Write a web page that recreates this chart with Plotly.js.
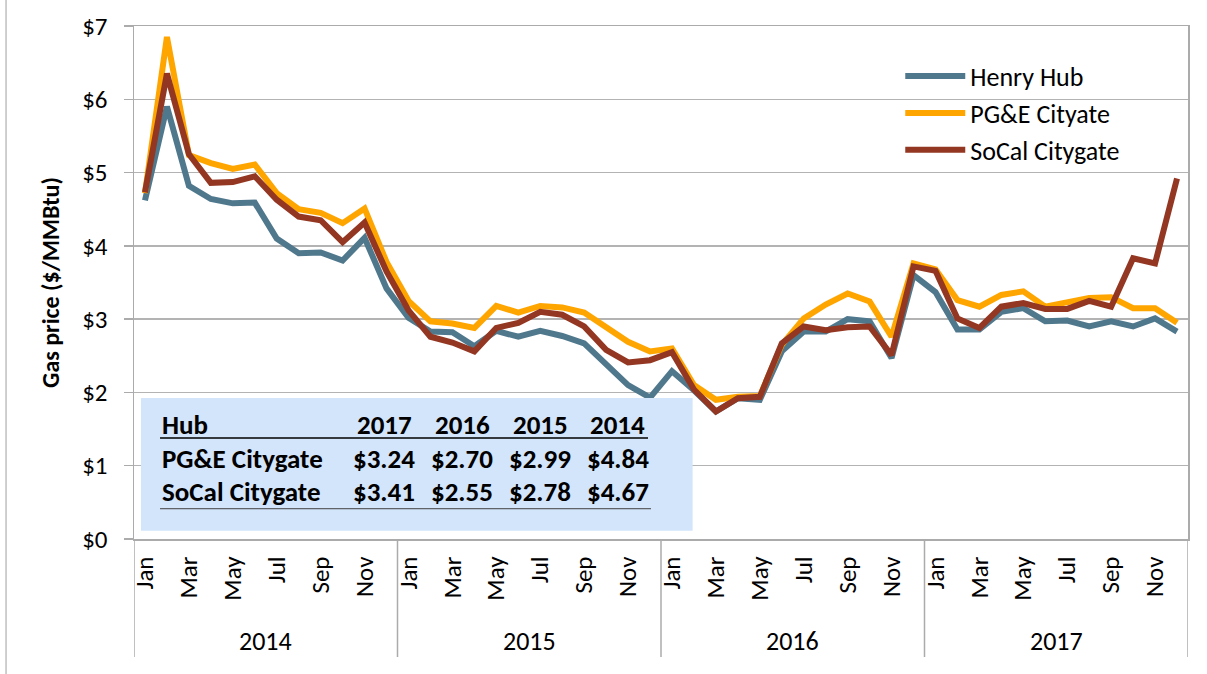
<!DOCTYPE html>
<html>
<head>
<meta charset="utf-8">
<script src="https://cdn.plot.ly/plotly-3.0.1.min.js"></script>
<style>
html,body{margin:0;padding:0;background:#fff;}
#chart{width:1207px;height:674px;}
</style>
</head>
<body>
<div id="chart"></div>
<script>
// ---- data ----
const years = ['2014', '2015', '2016', '2017'];
const monthNames = ['Jan','Feb','Mar','Apr','May','Jun','Jul','Aug','Sep','Oct','Nov','Dec'];
const shownMonths = ['Jan','Mar','May','Jul','Sep','Nov'];

const henryHub = [
  4.62, 5.90, 4.82, 4.64, 4.58, 4.59, 4.10, 3.90, 3.91, 3.80, 4.11, 3.42,
  3.02, 2.83, 2.82, 2.63, 2.84, 2.76, 2.84, 2.77, 2.67, 2.38, 2.10, 1.93,
  2.29, 2.03, 1.74, 1.92, 1.90, 2.56, 2.83, 2.83, 3.00, 2.97, 2.47, 3.60,
  3.37, 2.86, 2.86, 3.10, 3.15, 2.97, 2.98, 2.90, 2.97, 2.90, 3.01, 2.83
];
const pgeCitygate = [
  4.72, 6.85, 5.24, 5.13, 5.05, 5.11, 4.72, 4.50, 4.45, 4.31, 4.51, 3.78,
  3.25, 2.97, 2.94, 2.88, 3.18, 3.09, 3.18, 3.16, 3.09, 2.88, 2.69, 2.56,
  2.60, 2.10, 1.90, 1.94, 1.95, 2.65, 3.01, 3.20, 3.35, 3.24, 2.76, 3.76,
  3.68, 3.26, 3.17, 3.33, 3.38, 3.17, 3.24, 3.29, 3.30, 3.15, 3.15, 2.95
];
const socalCitygate = [
  4.73, 6.35, 5.25, 4.86, 4.87, 4.95, 4.63, 4.40, 4.35, 4.05, 4.32, 3.65,
  3.12, 2.76, 2.68, 2.56, 2.88, 2.95, 3.10, 3.06, 2.90, 2.58, 2.41, 2.44,
  2.55, 2.04, 1.74, 1.92, 1.94, 2.67, 2.90, 2.85, 2.89, 2.90, 2.51, 3.72,
  3.66, 3.01, 2.88, 3.17, 3.22, 3.14, 3.14, 3.25, 3.17, 3.83, 3.76, 4.92
];
const seriesNames = ['Henry Hub', 'PG&E Cityate', 'SoCal Citygate'];

const tableHeader = ['Hub', '2017', '2016', '2015', '2014'];
const tableHubs = ['PG&E Citygate', 'SoCal Citygate'];
const pgeAnnual = [3.24, 2.70, 2.99, 4.84];
const socalAnnual = [3.41, 2.55, 2.78, 4.67];

// ---- build ----
const FONT = 'Carlito, Lato, sans-serif';
const FS = 25;
const colors = ['#50788d', '#ffa500', '#943722'];
const xs = [];
const labels = [];
years.forEach(y => monthNames.forEach(m => { xs.push(xs.length); labels.push(m + ' ' + y); }));
const tickvals = [], ticktext = [];
xs.forEach((x, i) => {
  const m = monthNames[i % 12];
  if (shownMonths.includes(m)) { tickvals.push(x); ticktext.push(m); }
});

const allSeries = [henryHub, pgeCitygate, socalCitygate];
const traces = allSeries.map((vals, k) => ({
  type: 'scatter', mode: 'lines', x: xs, y: vals, name: seriesNames[k],
  text: labels, legendgroup: 'g' + k,
  line: {color: colors[k], width: 6}
}));

const shapes = [];
const annotations = [];
// year dividers and year labels
for (let i = 0; i <= years.length; i++) {
  shapes.push({type: 'line', xref: 'x', yref: 'paper', x0: i * 12 - 0.5, x1: i * 12 - 0.5,
    y0: 0, y1: -0.23, line: {color: '#ababab', width: 1.5}});
}
years.forEach((y, i) => {
  annotations.push({xref: 'x', yref: 'paper', x: i * 12 + 5.5, y: -0.199, text: y,
    showarrow: false, xanchor: 'center', yanchor: 'middle', font: {family: FONT, size: 26, color: '#000'}});
});
// outer frame left line
shapes.push({type: 'line', xref: 'paper', yref: 'paper', x0: -0.1214, x1: -0.1214, y0: -0.27, y1: 1.06,
  line: {color: '#bfbfbf', width: 1.5}});
// table box
shapes.push({type: 'rect', xref: 'paper', yref: 'paper', x0: 0.0066, x1: 0.530, y0: 0.016, y1: 0.275,
  fillcolor: '#d3e5fb', line: {width: 0}, layer: 'above'});
shapes.push({type: 'line', xref: 'paper', yref: 'paper', x0: 0.0247, x1: 0.4877, y0: 0.1968, y1: 0.1968,
  line: {color: '#000', width: 1.5}, layer: 'above'});
shapes.push({type: 'line', xref: 'paper', yref: 'paper', x0: 0.0247, x1: 0.4905, y0: 0.059, y1: 0.059,
  line: {color: '#404040', width: 1}, layer: 'above'});

const colX = [0.0247, 0.2372, 0.3112, 0.3852, 0.4592];
const rowY = [0.2240, 0.1565, 0.0921];
const tfont = {family: FONT, size: 27, color: '#000'};
tableHeader.forEach((h, j) => {
  annotations.push({xref: 'paper', yref: 'paper', x: colX[j], y: rowY[0], text: '<b>' + h + '</b>',
    showarrow: false, xanchor: j === 0 ? 'left' : 'center', yanchor: 'middle', font: tfont});
});
[pgeAnnual, socalAnnual].forEach((row, r) => {
  annotations.push({xref: 'paper', yref: 'paper', x: colX[0], y: rowY[r + 1], text: '<b>' + tableHubs[r] + '</b>',
    showarrow: false, xanchor: 'left', yanchor: 'middle', font: tfont});
  row.forEach((v, j) => {
    annotations.push({xref: 'paper', yref: 'paper', x: colX[j + 1], y: rowY[r + 1], text: '<b>$' + v.toFixed(2) + '</b>',
      showarrow: false, xanchor: 'center', yanchor: 'middle', font: tfont});
  });
});

const layout = {
  width: 1207, height: 674,
  margin: {l: 134, r: 19, t: 26, b: 135},
  paper_bgcolor: '#fff', plot_bgcolor: '#fff',
  font: {family: FONT, size: FS, color: '#000'},
  showlegend: true,
  legend: {x: 0.727, y: 0.948, xanchor: 'left', yanchor: 'top', bgcolor: 'rgba(0,0,0,0)',
    font: {family: FONT, size: 26, color: '#000'}, tracegroupgap: 8, itemwidth: 60, traceorder: 'normal'},
  hovermode: false,
  xaxis: {
    range: [-0.5, 47.5], tickmode: 'array', tickvals: tickvals, ticktext: ticktext,
    tickangle: -90, ticks: '', showgrid: false, zeroline: false,
    showline: true, linecolor: '#ababab', linewidth: 1.5, mirror: true,
    tickfont: {family: FONT, size: FS, color: '#000'}, ticklabelstandoff: 6
  },
  yaxis: {
    range: [0, 7], dtick: 1, tick0: 0, tickprefix: '$',
    showgrid: true, gridcolor: '#b3b3b3', gridwidth: 1.5, zeroline: false,
    showline: true, linecolor: '#ababab', linewidth: 1.5, mirror: true,
    ticks: 'outside', ticklen: 9, tickcolor: '#ababab', tickwidth: 1.5,
    tickfont: {family: FONT, size: FS, color: '#000'}, ticklabelstandoff: 11,
    title: {text: '<b>Gas price ($/MMBtu)</b>', standoff: 16, font: {family: FONT, size: 24, color: '#000'}}
  },
  shapes: shapes,
  annotations: annotations
};

Plotly.newPlot('chart', traces, layout, {displayModeBar: false, staticPlot: true});
</script>
</body>
</html>
